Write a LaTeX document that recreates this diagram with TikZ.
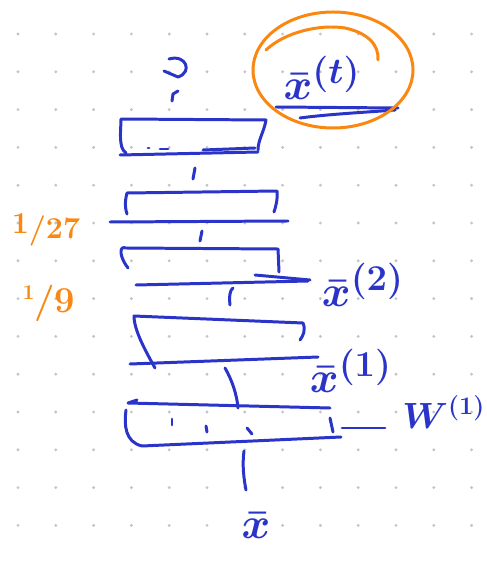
\documentclass[tikz,border=0pt]{standalone}
\definecolor{tinta}{RGB}{42,52,200}
\definecolor{naranja}{RGB}{250,135,15}
\definecolor{gris}{RGB}{195,195,195}
\usepackage{amsmath}
\usepackage{tikz}
\usetikzlibrary{positioning,calc}

\tikzset{
  trazo/.style={draw=tinta,line width=1.7pt,line cap=round,line join=round},
  resalte/.style={draw=naranja,line width=1.7pt,line cap=round},
  etiqueta/.style={text=tinta,font=\fontsize{30}{32}\selectfont\boldmath,inner sep=0pt},
  peso/.style={text=naranja,font=\LARGE\bfseries,inner sep=0pt}
}

\begin{document}
\begin{tikzpicture}[x=0.02cm,y=-0.02cm]
      \useasboundingbox[fill=white] (0,0) rectangle (486,563);

      % puntos de la hoja
      \foreach \i in {0,...,12}
        \foreach \j in {0,...,13}
          \fill[gris] ({18+37.8*\i},{34+37.8*\j}) circle (0.9pt);

      % salida arriba
      \draw[trazo] (169,59) .. controls (186,54) and (193,72) .. (178,77) -- (164,71);
      \draw[trazo] (172,101) -- (173,94) -- (178,91);

      % capa 1 (arriba)
      \draw[trazo] (126,153) .. controls (118,148) and (121,130) .. (121,119)
                   -- (266,120) .. controls (264,132) and (258,140) .. (258,150);
      \draw[trazo] (120,155) -- (258,152);
      \draw[trazo] (148,148) -- (149,148);
      \draw[trazo] (160,149) -- (168,149);
      \draw[trazo] (203,150) -- (255,148);
      \draw[trazo] (193,179) -- (195,168);

      % capa 2
      \draw[trazo] (127,214) .. controls (124,205) and (126,197) .. (127,193)
                   -- (277,191) .. controls (278,198) and (276,206) .. (274,212);
      \draw[trazo] (110,222) -- (288,221);
      \draw[trazo] (200,241) -- (202,231);

      % capa 3
      \draw[trazo] (128,268) .. controls (120,258) and (118,245) .. (126,248)
                   -- (278,249) -- (279,272);
      \draw[trazo] (136,285) -- (308,281);
      \draw[trazo] (255,275) -- (310,280);
      \draw[trazo] (230,305) .. controls (229,296) and (230,290) .. (233,288);

      % capa 4
      \draw[trazo] (155,368) .. controls (145,350) and (134,330) .. (134,316)
                   -- (303,323) .. controls (306,330) and (303,336) .. (300,340);
      \draw[trazo] (130,364) -- (318,357);
      \draw[trazo] (225,368) .. controls (232,380) and (237,395) .. (238,408);

      % capa 5, W
      \draw[trazo] (137,400) -- (128,403) -- (330,408);
      \draw[trazo] (126,410) .. controls (124,425) and (125,442) .. (142,446)
                   -- (341,437);
      \draw[trazo] (330,418) -- (333,432);
      \draw[trazo] (172,419) -- (172,425);
      \draw[trazo] (206,426) -- (207,432);
      \draw[trazo] (247,428) -- (252,434);
      \draw[trazo] (244,451) .. controls (242,465) and (244,480) .. (246,490);

      % etiquetas
      \node[etiqueta] (xin) at (256,526) {$\bar{x}$};
      \node[etiqueta] (x1) at (351,371) {$\bar{x}^{(1)}$};
      \node[etiqueta] (x2) at (363,285) {$\bar{x}^{(2)}$};
      \node[etiqueta,font=\huge\boldmath,anchor=west] (w1) at (402,412) {$W^{(1)}$};
      \node[etiqueta] (xt) at (322,78) {$\bar{x}^{(t)}$};

      \coordinate (w5) at (342,428);
      \draw[trazo] (w5) -- ($(w5 -| w1.west)+(-17,0)$);

      % subrayado y circulo de la salida
      \draw[trazo] (276,107) -- (398,108);
      \draw[trazo] (300,118) .. controls (330,114) and (370,112) .. (395,110);
      \draw[resalte] (333,70) ellipse (80 and 58);
      \draw[resalte] (266,50) .. controls (285,32) and (320,24) .. (345,28)
                     .. controls (368,33) and (379,45) .. (378,60);

      % factores
      \node[peso] (f27) at (46,230) {\raisebox{3pt}{1}/27};
      \node[peso,font=\huge\bfseries] (f9) at (49,303) {\raisebox{7pt}{\large 1}/9};
    \end{tikzpicture}
\end{document}
